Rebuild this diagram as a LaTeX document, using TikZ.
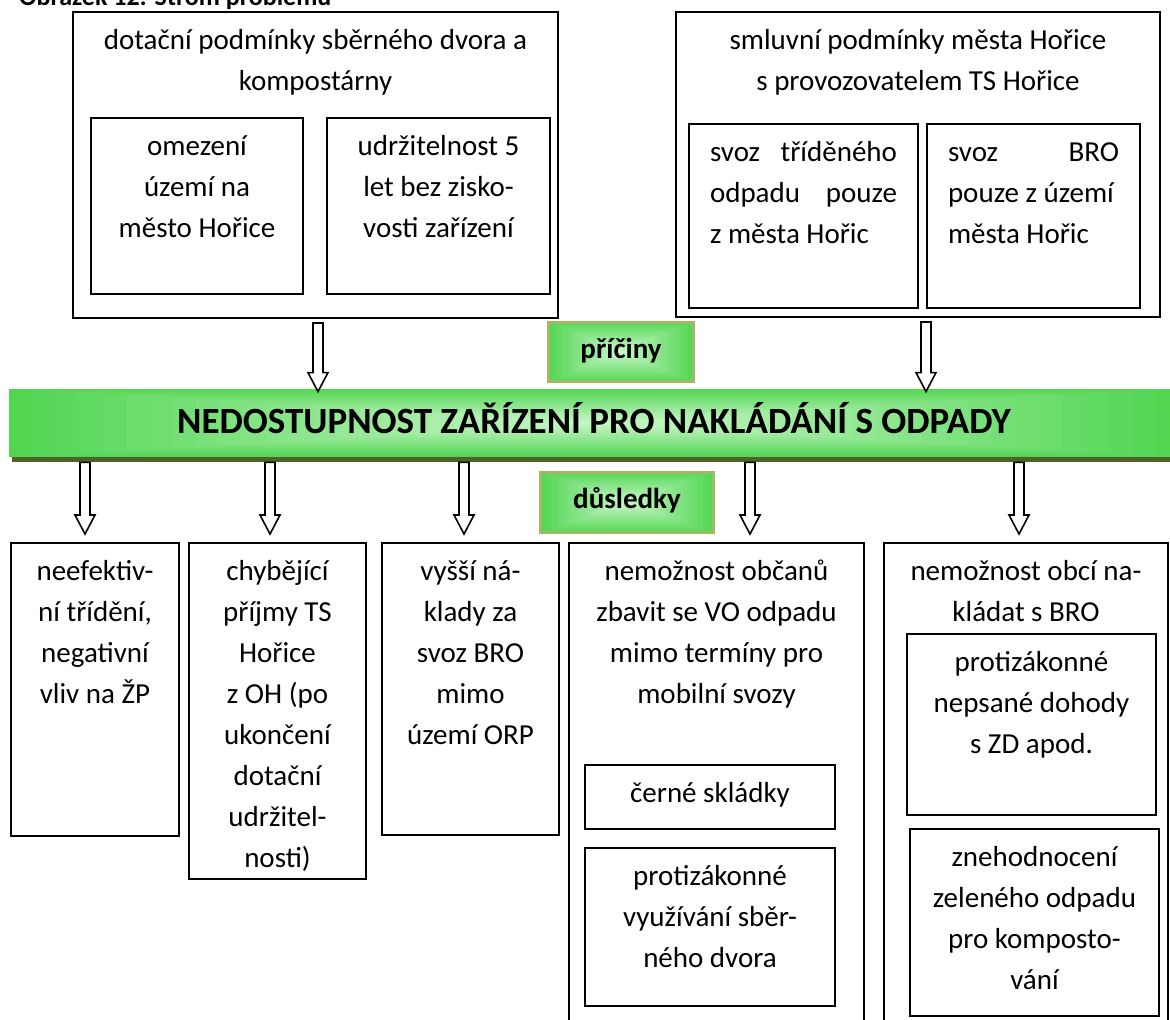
\documentclass[tikz,border=0pt]{standalone}
\usepackage{fontspec}
\setmainfont{Carlito}
\usetikzlibrary{positioning, calc, backgrounds}

\definecolor{greenedge}{RGB}{82,214,82}
\definecolor{greenlight}{RGB}{204,247,204}
\definecolor{olivebrd}{RGB}{160,185,100}
\definecolor{oliveshadow}{RGB}{79,98,40}

\newlength{\pxu}
\setlength{\pxu}{0.5pt}
\newcommand{\bodyfont}{\fontsize{14.5}{20.5}\selectfont}

% hollow block arrow: lane and start taken from #1, tip height from #2
\newcommand{\blockarrow}[2]{%
  \draw[hollow] let \p1=(#1), \p2=(#2) in
    (\x1-2.5pt,\y1) -- (\x1-2.5pt,\y2+9.5pt) -- (\x1-5pt,\y2+9.5pt) -- (\x1,\y2)
    -- (\x1+5pt,\y2+9.5pt) -- (\x1+2.5pt,\y2+9.5pt) -- (\x1+2.5pt,\y1) -- cycle;}

% light centre, green rim
\newcommand{\greenshade}[1]{%
  \begin{scope}[on background layer]
    \foreach \i in {0,...,24}{
      \pgfmathtruncatemacro{\mixval}{100-4*\i}
      \fill[greenedge!\mixval!greenlight] ($(#1.north west)!\i/25!(#1.center)$) rectangle ($(#1.south east)!\i/25!(#1.center)$);
    }
  \end{scope}}

\begin{document}
\begin{tikzpicture}[
    x=0.5pt, y=-0.5pt,
    cellbase/.style={draw, line width=1pt, anchor=north west, inner sep=0pt},
    cbox/.style 2 args={cellbase,
        execute at begin node={\begin{minipage}[b][#2\pxu][t]{#1\pxu}\bodyfont\centering\rule{0pt}{18.5pt}},
        execute at end node={\end{minipage}}},
    jbox/.style 2 args={cellbase,
        execute at begin node={\begin{minipage}[b][#2\pxu][t]{#1\pxu}\bodyfont\leftskip=10.5pt\relax\rightskip=10.5pt\relax\rule{0pt}{18.5pt}},
        execute at end node={\end{minipage}}},
    tag/.style={draw=olivebrd, line width=1.5pt, inner sep=0pt, font=\bodyfont\bfseries, text height=8pt, text depth=2pt},
    banner/.style={inner sep=0pt, font=\fontsize{18.5}{22}\selectfont\bfseries, text height=15pt, text depth=5pt},
    hollow/.style={draw, fill=white, line width=0.8pt}
]
\useasboundingbox (0,0) rectangle (1170,1019);

\node[anchor=base west, font=\fontsize{13}{15}\selectfont\bfseries] (caption) at (12,5) {Obrázek 12: Strom problému};

% --- causes ---
\node[cbox={485}{306}] (causes) at (72,11) {dotační podmínky sběrného dvora a\\kompostárny};
\node[cbox={212}{176}] (causeA) at (90,117) {omezení\\území na\\město Hořice};
\node[cbox={223}{176}] (causeB) at (326,117) {udržitelnost 5\\let bez zisko-\\vosti zařízení};

\node[cbox={484}{305}] (contract) at (675,11) {smluvní podmínky města Hořice\\s provozovatelem TS Hořice};
\node[jbox={229}{184}] (contractA) at (688,123) {svoz\hfill tříděného\\odpadu\hfill pouze\\z města Hořic};
\node[jbox={213}{184}] (contractB) at (926,123) {svoz\hfill BRO\\pouze z území\\města Hořic};

% --- problem ---
\node[banner, minimum width=585pt, minimum height=34pt] (problem) at (594,423) {NEDOSTUPNOST ZAŘÍZENÍ PRO NAKLÁDÁNÍ S ODPADY};
\begin{scope}[on background layer]
  \fill[oliveshadow] ($(problem.north west)+(3,5)$) rectangle ($(problem.south east)+(3,5)$);
\end{scope}
\greenshade{problem}

\node[tag, minimum width=72.5pt, minimum height=29.5pt] (why) at (621,352) {příčiny};
\greenshade{why}
\node[tag, minimum width=86.5pt, minimum height=30pt] (result) at (627,502.5) {důsledky};
\greenshade{result}

% --- effects ---
\node[cbox={168}{293}] (eff1) at (10,542) {neefektiv-\\ní třídění,\\negativní\\vliv na ŽP};
\node[cbox={177}{336}] (eff2) at (188,542) {chybějící\\příjmy TS\\Hořice\\z OH (po\\ukončení\\dotační\\udržitel-\\nosti)};
\node[cbox={177}{292}] (eff3) at (381,542) {vyšší ná-\\klady za\\svoz BRO\\mimo\\území ORP};
\node[cbox={295}{490}] (eff4) at (568,542) {nemožnost občanů\\zbavit se VO odpadu\\mimo termíny pro\\mobilní svozy};
\node[cbox={250}{64}] (eff4a) at (584,764) {černé skládky};
\node[cbox={250}{158}] (eff4b) at (584,847) {protizákonné\\využívání sběr-\\ného dvora};
\node[cbox={284}{490}] (eff5) at (883,542) {nemožnost obcí na-\\kládat s BRO};
\node[cbox={249}{181}] (eff5a) at (906,633) {protizákonné\\nepsané dohody\\s ZD apod.};
\node[cbox={249}{187}] (eff5b) at (909,828) {znehodnocení\\zeleného odpadu\\pro komposto-\\vání};

% --- arrows ---
\blockarrow{$(causes.south)+(2.5,4)$}{$(causes.south |- problem.north)+(0,3)$}
\blockarrow{$(contract.south)+(8,4)$}{$(contract.south |- problem.north)+(0,3)$}

\blockarrow{$(problem.south -| eff1.north)+(-10,5)$}{$(eff1.north)+(0,-8)$}
\blockarrow{$(problem.south -| eff2.north)+(-7.5,5)$}{$(eff2.north)+(0,-8)$}
\blockarrow{$(problem.south -| eff3.north)+(-6.5,5)$}{$(eff3.north)+(0,-8)$}
\blockarrow{$(problem.south -| eff4.north)+(33.5,5)$}{$(eff4.north)+(0,-8)$}
\blockarrow{$(problem.south -| eff5.north)+(-7,5)$}{$(eff5.north)+(0,-8)$}

\end{tikzpicture}
\end{document}
